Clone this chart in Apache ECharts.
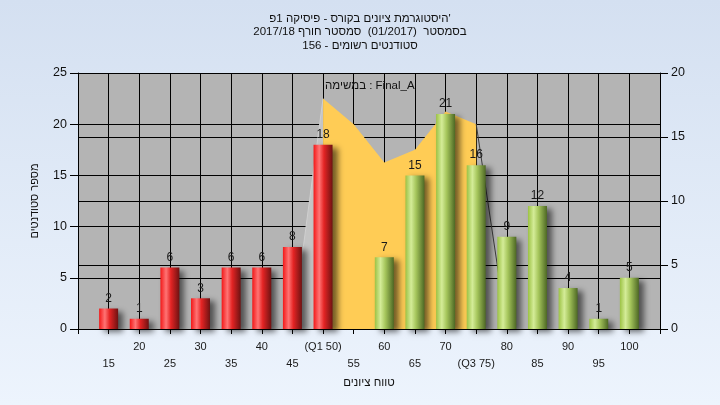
<!DOCTYPE html>
<html><head><meta charset="utf-8">
<script src="https://cdn.jsdelivr.net/npm/echarts@6/dist/echarts.min.js"></script>
<style>html,body{margin:0;padding:0;}#c{width:720px;height:405px;}</style>
</head><body><div id="c"></div>
<script>
const titleLines = ["היסטוגרמת ציונים בקורס - פיסיקה 1פ'", "בסמסטר  (01/2017)  סמסטר חורף 2017/18", "סטודנטים רשומים - 156"];
const xAxisTitle = "טווח ציונים";
const yAxisTitle = "מספר סטודנטים";
const areaName = "במשימה : Final_A";
const categories = ['15','20','25','30','35','40','45','50','55','60','65','70','75','80','85','90','95','100'];
const tickLabels = ['15','20','25','30','35','40','45','(Q1 50)','55','60','65','70','(Q3 75)','80','85','90','95','100'];
const studentCounts = [2,1,6,3,6,6,8,18,null,7,15,21,16,9,12,4,1,5];
const finalA = [null,null,null,null,null,null,null,18,16,13,14,17,16,null,null,null,null,null];
const finalALeftSide = [null,null,null,null,null,null,0,18,null,null,null,null,null,null,null,null,null,null];
const finalARightSide = [null,null,null,null,null,null,null,null,null,null,null,null,16,0,null,null,null,null];
const passFrom = '55';
const leftTicks = [0,5,10,15,20,25];
const rightTicks = [0,5,10,15,20];

const FONT = "'Liberation Sans', Arial, 'DejaVu Sans', sans-serif";
const pad = arr => [null, ...arr, null];
const passIndex = categories.indexOf(passFrom);

const chart = echarts.init(document.getElementById('c'));
const redGrad = new echarts.graphic.LinearGradient(0,0,1,0,[
  {offset:0,color:'#f21818'},{offset:0.3,color:'#ff7474'},{offset:0.55,color:'#e42424'},{offset:1,color:'#6e1212'}]);
const greenGrad = new echarts.graphic.LinearGradient(0,0,1,0,[
  {offset:0,color:'#9cc244'},{offset:0.3,color:'#d4ec98'},{offset:0.55,color:'#a6c65c'},{offset:1,color:'#4d6824'}]);

chart.setOption({
  animation:false,
  backgroundColor:{type:'linear',x:0,y:0,x2:0,y2:1,colorStops:[{offset:0,color:'#d4e0f1'},{offset:1,color:'#edf4fd'}]},
  textStyle:{fontFamily:FONT},
  title:{text:titleLines.join('\n'),left:'center',top:7,
    textStyle:{fontSize:11.5,fontWeight:'normal',color:'#111',lineHeight:13.5,fontFamily:FONT}},
  legend:{data:[{name:areaName,icon:'none'}],left:315,top:74,itemWidth:0,selectedMode:false,
    textStyle:{fontSize:11.5,color:'#111',fontFamily:FONT}},
  grid:{left:78,right:60,top:73,bottom:76,show:true,backgroundColor:'#b4b4b4',borderWidth:0},
  xAxis:{type:'category',data:['',...tickLabels,''],boundaryGap:false,
    axisLine:{lineStyle:{color:'#000',width:1}},
    axisTick:{show:true,interval:0,length:5,lineStyle:{color:'#000'}},
    axisLabel:{interval:0,fontSize:11,color:'#1a1a1a',margin:9,lineHeight:17,fontFamily:FONT,
      formatter:(v,i)=> (i%2===1 ? '\n'+v : v)},
    splitLine:{show:true,interval:0,lineStyle:{color:'#000',width:1}},
    name:xAxisTitle,nameLocation:'middle',nameGap:46,nameTextStyle:{fontSize:11.5,color:'#111',fontFamily:FONT}},
  yAxis:[
    {type:'value',min:leftTicks[0],max:leftTicks[leftTicks.length-1],interval:5,position:'left',
     axisLine:{show:true,lineStyle:{color:'#000'}},
     axisTick:{show:true,length:8,lineStyle:{color:'#000'}},
     axisLabel:{fontSize:12.5,margin:11,color:'#111',fontFamily:FONT},
     splitLine:{show:true,lineStyle:{color:'#000',width:1}},
     name:yAxisTitle,nameLocation:'middle',nameGap:38,nameRotate:90,
     nameTextStyle:{fontSize:11,color:'#111',fontFamily:FONT}},
    {type:'value',min:rightTicks[0],max:rightTicks[rightTicks.length-1],interval:5,position:'right',
     axisLine:{show:true,lineStyle:{color:'#000'}},
     axisTick:{show:true,length:8,lineStyle:{color:'#000'}},
     axisLabel:{fontSize:12.5,margin:11,color:'#111',fontFamily:FONT},
     splitLine:{show:true,lineStyle:{color:'#000',width:1}}}
  ],
  series:[
    {name:'leftSide',type:'line',yAxisIndex:1,data:pad(finalALeftSide),symbol:'none',silent:true,z:1,
     lineStyle:{color:'#cfcfcf',width:1},areaStyle:{color:'#c4c4c4',opacity:1}},
    {name:areaName,type:'line',yAxisIndex:1,data:pad(finalA),symbol:'none',z:2,
     lineStyle:{width:0,color:'#ffcc55'},itemStyle:{color:'#ffcc55'},areaStyle:{color:'#ffcc55',opacity:1}},
    {name:'rightSide',type:'line',yAxisIndex:1,data:pad(finalARightSide),symbol:'none',silent:true,z:2,
     lineStyle:{color:'#3c3c3c',width:1}},
    {name:'counts',type:'bar',yAxisIndex:0,barWidth:19,z:3,data:pad(studentCounts),
     itemStyle:{color:p=> (p.dataIndex-1>=passIndex ? greenGrad : redGrad),
       shadowColor:'rgba(0,0,0,0.55)',shadowBlur:6,shadowOffsetX:5,shadowOffsetY:3},
     label:{show:true,position:'top',distance:4,fontSize:12,color:'#1a1a1a',fontFamily:FONT}}
  ]
});
</script></body></html>
